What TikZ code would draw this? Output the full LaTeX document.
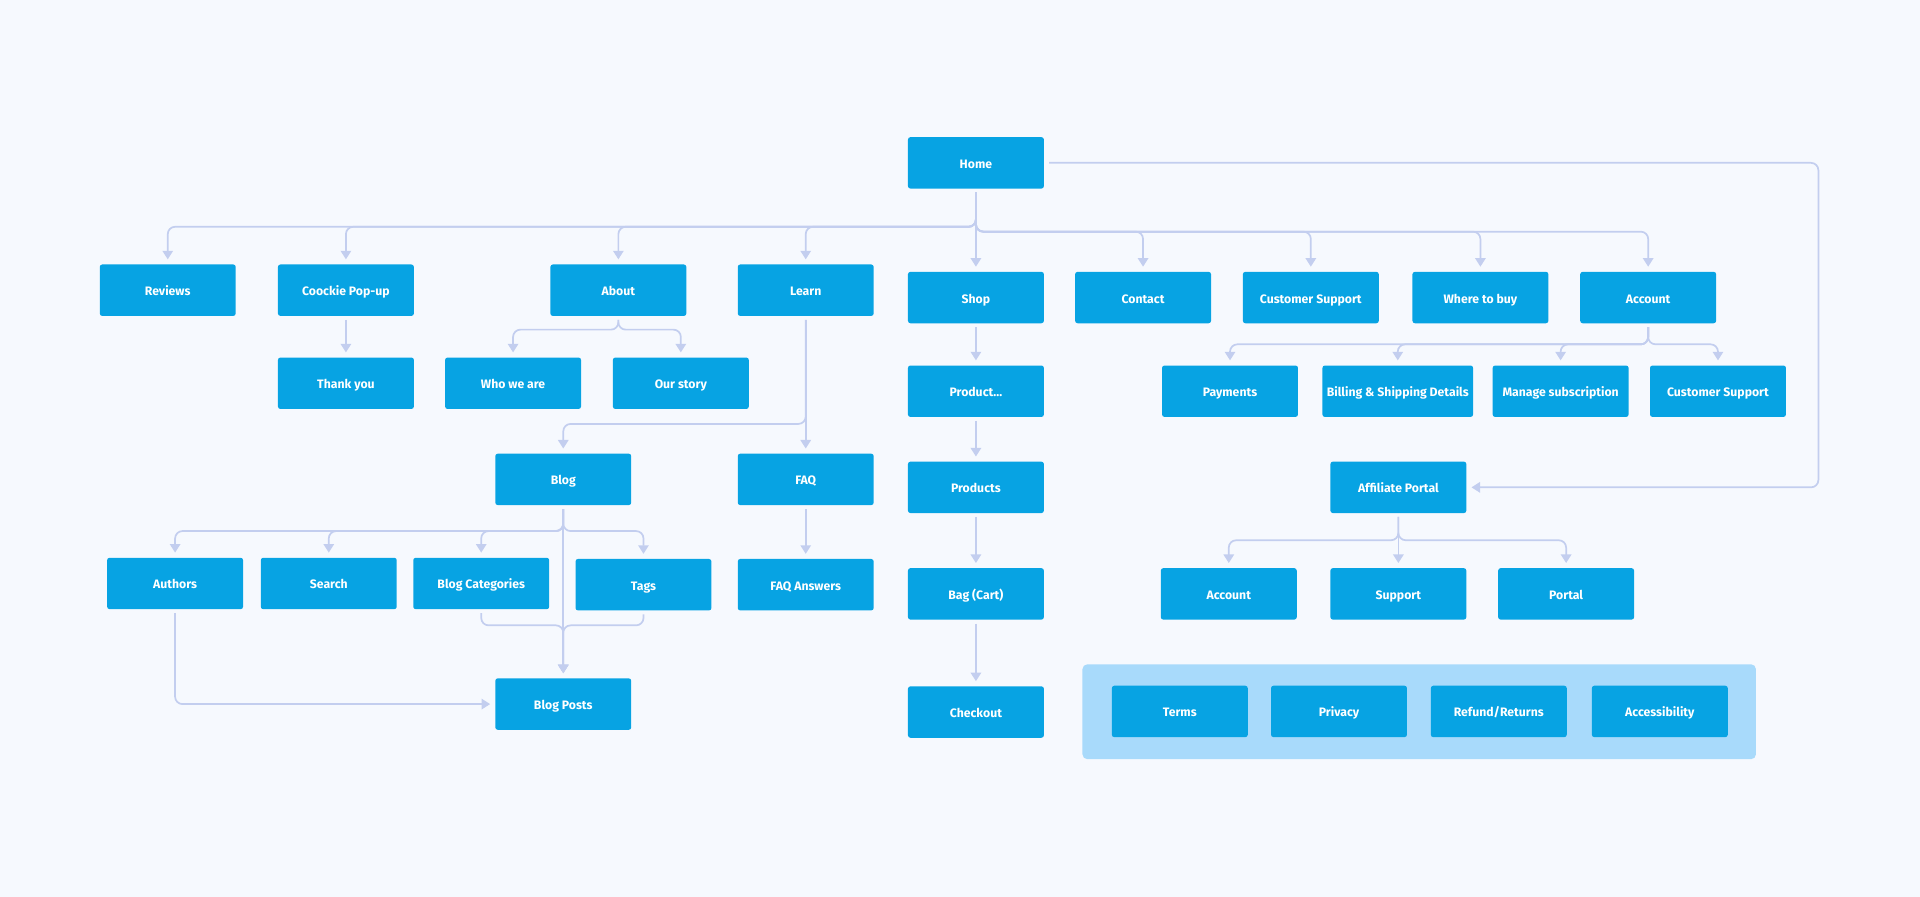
\documentclass[tikz,border=0pt]{standalone}
\usepackage{fontspec}
\setmainfont{Fira Sans}
\usetikzlibrary{arrows.meta}
\definecolor{bgcol}{HTML}{F6F9FE}
\definecolor{boxblue}{HTML}{07A3E3}
\definecolor{linecol}{HTML}{C3CEEF}
\definecolor{panelcol}{HTML}{A8DAFB}
\tikzset{
  pagebox/.style={rectangle, rounded corners=2pt, fill=boxblue, text=white,
    minimum width=111pt, minimum height=42pt, inner sep=0pt,
    font=\bfseries\fontsize{10}{12}\selectfont, text height=9pt, text depth=0pt},
  conn/.style={draw=linecol, line width=1.4pt, rounded corners=6pt,
    -{Triangle[width=8.5pt,length=7pt]}, shorten <=3pt, shorten >=4pt}
}
\begin{document}
\begin{tikzpicture}[x=1pt,y=-1pt]
\fill[bgcol] (0,0) rectangle (1568,732.5);
\useasboundingbox (0,0) rectangle (1568,732.5);
% legal panel
\fill[panelcol, rounded corners=4pt] (884,542.5) rectangle (1434,620);
% nodes
\node[pagebox] (home) at (797,133) {Home};
\node[pagebox] (reviews) at (137,237) {Reviews};
\node[pagebox] (cookie) at (282.5,237) {Coockie Pop-up};
\node[pagebox] (about) at (505,237) {About};
\node[pagebox] (learn) at (658,237) {Learn};
\node[pagebox] (shop) at (797,243) {Shop};
\node[pagebox] (contact) at (933.5,243) {Contact};
\node[pagebox] (custsup) at (1070.5,243) {Customer Support};
\node[pagebox] (where) at (1209,243) {Where to buy};
\node[pagebox] (account) at (1346,243) {Account};
\node[pagebox] (thanks) at (282.5,313) {Thank you};
\node[pagebox] (who) at (419,313) {Who we are};
\node[pagebox] (story) at (556,313) {Our story};
\node[pagebox] (product) at (797,319.5) {Product...};
\node[pagebox] (payments) at (1004.5,319.5) {Payments};
\node[pagebox, minimum width=123pt] (billing) at (1141.5,319.5) {Billing \& Shipping Details};
\node[pagebox] (manage) at (1274.5,319.5) {Manage subscription};
\node[pagebox] (custsuptwo) at (1403,319.5) {Customer Support};
\node[pagebox] (blog) at (460,391.5) {Blog};
\node[pagebox] (faq) at (658,391.5) {FAQ};
\node[pagebox] (products) at (797,398) {Products};
\node[pagebox] (affiliate) at (1142,398) {Affiliate Portal};
\node[pagebox] (authors) at (143,476.5) {Authors};
\node[pagebox] (search) at (268.5,476.5) {Search};
\node[pagebox] (blogcat) at (393,476.5) {Blog Categories};
\node[pagebox] (tags) at (525.5,477.5) {Tags};
\node[pagebox] (faqans) at (658,477.5) {FAQ Answers};
\node[pagebox] (bag) at (797,485) {Bag (Cart)};
\node[pagebox] (acctwo) at (1003.5,485) {Account};
\node[pagebox] (support) at (1142,485) {Support};
\node[pagebox] (portal) at (1279,485) {Portal};
\node[pagebox] (blogposts) at (460,575) {Blog Posts};
\node[pagebox] (checkout) at (797,581.5) {Checkout};
\node[pagebox] (terms) at (963.5,581) {Terms};
\node[pagebox] (privacy) at (1093.5,581) {Privacy};
\node[pagebox] (refund) at (1224,581) {Refund/Returns};
\node[pagebox] (access) at (1355.5,581) {Accessibility};
% Home branches
\draw[conn] (home.south) -- ++(0,31) -| (reviews.north);
\draw[conn] (home.south) -- ++(0,31) -| (cookie.north);
\draw[conn] (home.south) -- ++(0,31) -| (about.north);
\draw[conn] (home.south) -- ++(0,31) -| (learn.north);
\draw[conn] (home.south) -- (shop.north);
\draw[conn] (home.south) -- ++(0,35) -| (contact.north);
\draw[conn] (home.south) -- ++(0,35) -| (custsup.north);
\draw[conn] (home.south) -- ++(0,35) -| (where.north);
\draw[conn] (home.south) -- ++(0,35) -| (account.north);
\coordinate (homeright) at (1485,133);
\draw[conn, shorten <=4pt] (home.east) -- (homeright) |- (affiliate.east);
% cookie, about
\draw[conn] (cookie.south) -- (thanks.north);
\draw[conn] (about.south) -- ++(0,11) -| (who.north);
\draw[conn] (about.south) -- ++(0,11) -| (story.north);
% learn
\draw[conn] (learn.south) -- ++(0,88) -| (blog.north);
\draw[conn] (learn.south) -- (faq.north);
\draw[conn] (faq.south) -- (faqans.north);
% blog
\draw[conn] (blog.south) -- ++(0,21) -| (authors.north);
\draw[conn] (blog.south) -- ++(0,21) -| (search.north);
\draw[conn] (blog.south) -- ++(0,21) -| (blogcat.north);
\draw[conn] (blog.south) -- ++(0,21) -| (tags.north);
\draw[conn] (blog.south) -- (blogposts.north);
\draw[conn] (blogcat.south) -- ++(0,13) -| (blogposts.north);
\draw[conn] (tags.south) -- ++(0,12) -| (blogposts.north);
\draw[conn] (authors.south) |- (blogposts.west);
% shop chain
\draw[conn] (shop.south) -- (product.north);
\draw[conn] (product.south) -- (products.north);
\draw[conn] (products.south) -- (bag.north);
\draw[conn] (bag.south) -- (checkout.north);
% account
\draw[conn] (account.south) -- ++(0,17) -| (payments.north);
\draw[conn] (account.south) -- ++(0,17) -| (billing.north);
\draw[conn] (account.south) -- ++(0,17) -| (manage.north);
\draw[conn] (account.south) -- ++(0,17) -| (custsuptwo.north);
% affiliate
\draw[conn] (affiliate.south) -- ++(0,22) -| (acctwo.north);
\draw[conn] (affiliate.south) -- (support.north);
\draw[conn] (affiliate.south) -- ++(0,22) -| (portal.north);
\end{tikzpicture}
\end{document}
